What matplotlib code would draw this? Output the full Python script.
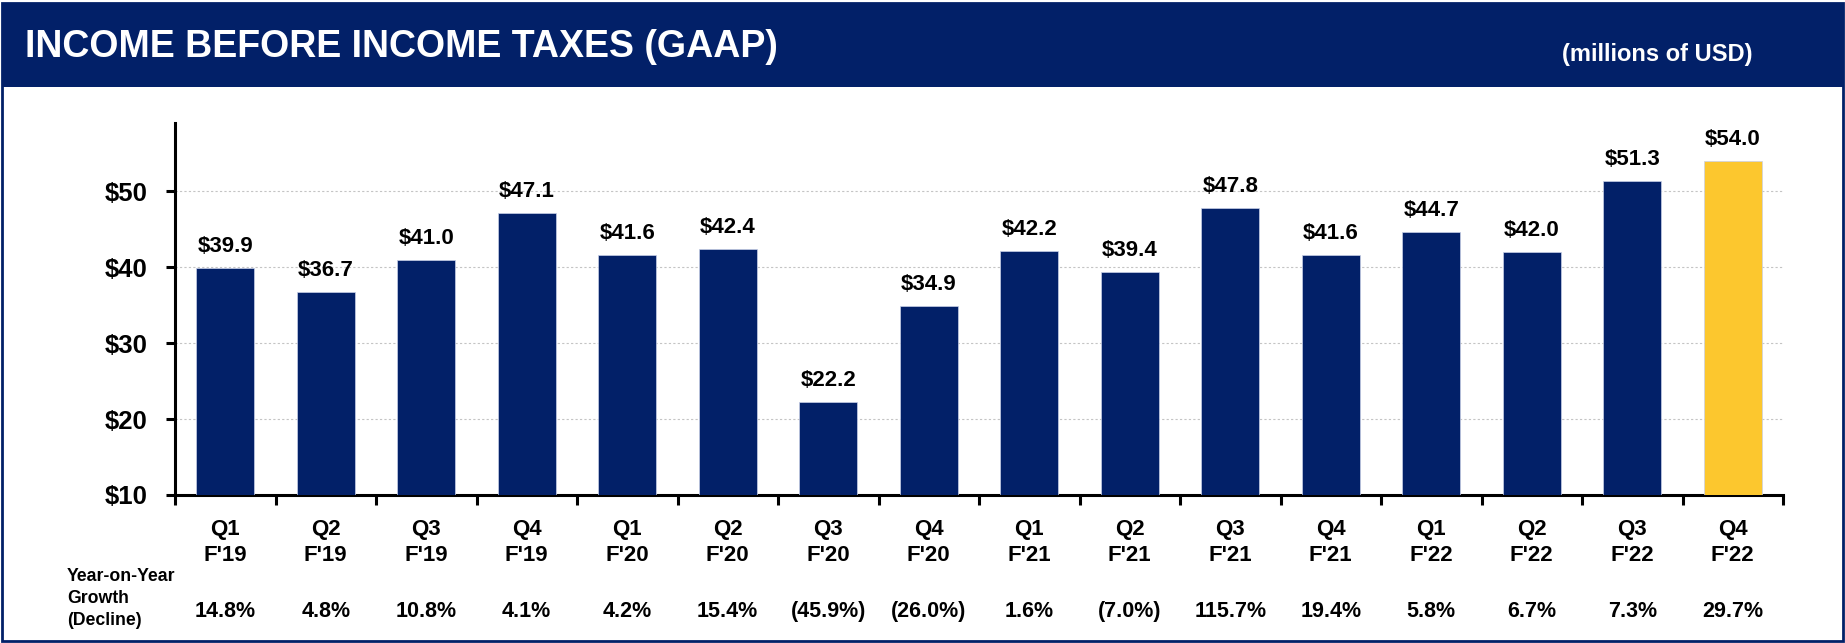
import matplotlib
matplotlib.use("Agg")
import matplotlib.pyplot as plt
from matplotlib.patches import Rectangle
import matplotlib.transforms as mtransforms

# ---- data ----
quarters = ["Q1", "Q2", "Q3", "Q4"] * 4
years = ["F'19"] * 4 + ["F'20"] * 4 + ["F'21"] * 4 + ["F'22"] * 4
values = [39.9, 36.7, 41.0, 47.1, 41.6, 42.4, 22.2, 34.9,
          42.2, 39.4, 47.8, 41.6, 44.7, 42.0, 51.3, 54.0]
growth = [14.8, 4.8, 10.8, 4.1, 4.2, 15.4, -45.9, -26.0,
          1.6, -7.0, 115.7, 19.4, 5.8, 6.7, 7.3, 29.7]
yticks = [10, 20, 30, 40, 50]
yoy_lines = ["Year-on-Year", "Growth", "(Decline)"]

NAVY = "#022068"
GOLD = "#FCC72E"
FONT = "Liberation Sans"

W, H = 1845, 643
fig = plt.figure(figsize=(W / 100, H / 100), dpi=100)


def fx(px):
    return px / W


def fy(py):
    return 1 - py / H


# header band and frame
fig.patches.append(Rectangle((fx(2), fy(87)), fx(1843) - fx(2), fy(4) - fy(87),
                             transform=fig.transFigure, facecolor=NAVY, edgecolor="none", zorder=0))
fig.patches.append(Rectangle((fx(2), fy(641)), fx(1843) - fx(2), fy(3) - fy(641),
                             transform=fig.transFigure, facecolor="none", edgecolor=NAVY,
                             linewidth=2, zorder=5))

fig.text(fx(25), fy(47), "INCOME BEFORE INCOME TAXES (GAAP)", color="white",
         fontsize=27, fontweight="bold", family=FONT, va="center", ha="left")
fig.text(fx(1753), fy(55), "(millions of USD)", color="white",
         fontsize=17, fontweight="bold", family=FONT, va="center", ha="right")

ax = fig.add_axes([fx(175), fy(495), fx(1783) - fx(175), fy(123) - fy(495)])
x = list(range(len(values)))
colors = [NAVY] * (len(values) - 1) + [GOLD]
ax.bar(x, values, width=0.58, bottom=0, color=colors,
       edgecolor="#c8d0e8", linewidth=0.5, zorder=3)

ax.set_xlim(-0.5, len(values) - 0.5)
ax.set_ylim(10, 59)

for xi, v in zip(x, values):
    ax.annotate(f"${v:.1f}", (xi, v), xytext=(0, 11.5), textcoords="offset points",
                ha="center", va="baseline", fontsize=16, fontweight="bold",
                family=FONT, color="black")

# y axis
ax.set_yticks(yticks)
ax.set_yticklabels([f"${t}" for t in yticks], fontsize=18.5, fontweight="bold", family=FONT)
ax.tick_params(axis="y", length=6.5, width=2.2, pad=13, direction="out")
ax.yaxis.grid(True, color="#C4C4C4", linestyle=(0, (2, 2)), linewidth=0.8)
ax.set_axisbelow(True)

# x axis: category labels placed under each bar, tick marks at boundaries
ax.set_xticks(x)
ax.set_xticklabels([""] * len(x))
ax.set_xticks([i - 0.5 for i in range(len(values) + 1)], minor=True)
ax.tick_params(axis="x", which="major", length=0)
ax.tick_params(axis="x", which="minor", length=7.5, width=2.2, direction="out")

for s in ["top", "right"]:
    ax.spines[s].set_visible(False)
for s in ["left", "bottom"]:
    ax.spines[s].set_linewidth(2.2)
    ax.spines[s].set_color("black")

trans = mtransforms.blended_transform_factory(ax.transData, fig.transFigure)
for xi, q, yr in zip(x, quarters, years):
    ax.text(xi, fy(535), q, transform=trans, ha="center", va="baseline",
            fontsize=16, fontweight="bold", family=FONT)
    ax.text(xi, fy(561), yr, transform=trans, ha="center", va="baseline",
            fontsize=16, fontweight="bold", family=FONT)

# growth row
for xi, g in zip(x, growth):
    txt = f"{g:.1f}%" if g >= 0 else f"({abs(g):.1f}%)"
    ax.text(xi, fy(617), txt, transform=trans, ha="center", va="baseline",
            fontsize=15.5, fontweight="bold", family=FONT)

for line, base in zip(yoy_lines, [581, 603, 625]):
    fig.text(fx(67), fy(base), line, ha="left", va="baseline",
             fontsize=12.7, fontweight="bold", family=FONT)

fig.savefig("out.png", dpi=100)
